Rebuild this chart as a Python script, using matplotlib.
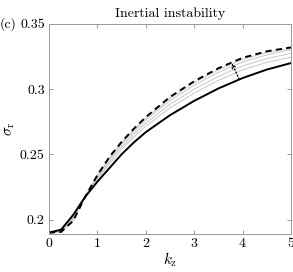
import numpy as np
import matplotlib
matplotlib.use("Agg")
import matplotlib.pyplot as plt

plt.rcParams['mathtext.fontset'] = 'cm'
plt.rcParams['font.family'] = ['cmr10', 'DejaVu Serif']
plt.rcParams['axes.formatter.use_mathtext'] = True

# growth rate vs vertical wavenumber
kz = [0, 0.25, 0.5, 0.75, 1, 1.25, 1.5, 1.75, 2, 2.5, 3, 3.5, 4, 4.5, 5]
sigma_solid = [0.1900, 0.1922, 0.2035, 0.2175, 0.2290, 0.2395, 0.2500, 0.2590,
               0.2670, 0.2800, 0.2910, 0.3005, 0.3085, 0.3150, 0.3200]
sigma_dashed = [0.1900, 0.1905, 0.1990, 0.2175, 0.2340, 0.2480, 0.2595, 0.2695,
                0.2785, 0.2940, 0.3060, 0.3160, 0.3240, 0.3290, 0.3320]
# intermediate cases (grey)
sigma_grey = [
    [0.1900, 0.1906, 0.1993, 0.2175, 0.2337, 0.2474, 0.2588, 0.2688,
     0.2777, 0.2930, 0.3050, 0.3149, 0.3229, 0.3280, 0.3312],
    [0.1900, 0.1908, 0.1999, 0.2175, 0.2330, 0.2463, 0.2576, 0.2674,
     0.2762, 0.2912, 0.3030, 0.3129, 0.3209, 0.3262, 0.3302],
    [0.1900, 0.1912, 0.2008, 0.2175, 0.2320, 0.2446, 0.2557, 0.2653,
     0.2739, 0.2884, 0.3000, 0.3098, 0.3178, 0.3234, 0.3275],
    [0.1900, 0.1915, 0.2017, 0.2175, 0.2310, 0.2429, 0.2538, 0.2632,
     0.2716, 0.2856, 0.2970, 0.3067, 0.3147, 0.3206, 0.3245],
]
arrow_k = [3.93, 3.78]
arrow_sigma = [0.3076, 0.3198]

xticks = [0, 1, 2, 3, 4, 5]
yticks = [0.2, 0.25, 0.3, 0.35]
ytick_labels = ["0.2", "0.25", "0.3", "0.35"]

fig = plt.figure(figsize=(2.93, 2.72), dpi=100)
ax = fig.add_axes([0.167, 0.140, 0.826, 0.772])

for s in sigma_grey:
    ax.plot(kz, s, color='#cccccc', lw=0.8)
ax.plot(kz, sigma_solid, color='k', lw=1.4)
ax.plot(kz, sigma_dashed, color='k', lw=1.4, dashes=(3.2, 2.2))

ax.annotate("", xy=(arrow_k[1], arrow_sigma[1]), xytext=(arrow_k[0], arrow_sigma[0]),
            arrowprops=dict(arrowstyle='->', linestyle=':', color='k', lw=0.9,
                            shrinkA=0, shrinkB=0, mutation_scale=7))

ax.set_xlim(0, 5)
ax.set_ylim(0.189, 0.35)
ax.set_xticks(xticks)
ax.set_xticklabels([str(t) for t in xticks])
ax.set_yticks(yticks)
ax.set_yticklabels(ytick_labels)
ax.tick_params(direction='in', length=3, width=0.6, colors='#888888',
               labelcolor='k', labelsize=10, top=True, right=True, pad=3)
for sp in ax.spines.values():
    sp.set_color('#999999')
    sp.set_linewidth(0.7)

ax.set_xlabel(r'$k_{\mathrm{z}}$', fontsize=11, labelpad=0)
ax.set_ylabel(r'$\sigma_{\mathrm{r}}$', fontsize=11, labelpad=2)
ax.set_title("Inertial instability", fontsize=10, pad=5)
fig.text(0.0, 0.912, "(c)", fontsize=10, va='center', ha='left')

fig.savefig("out.png", dpi=100)
